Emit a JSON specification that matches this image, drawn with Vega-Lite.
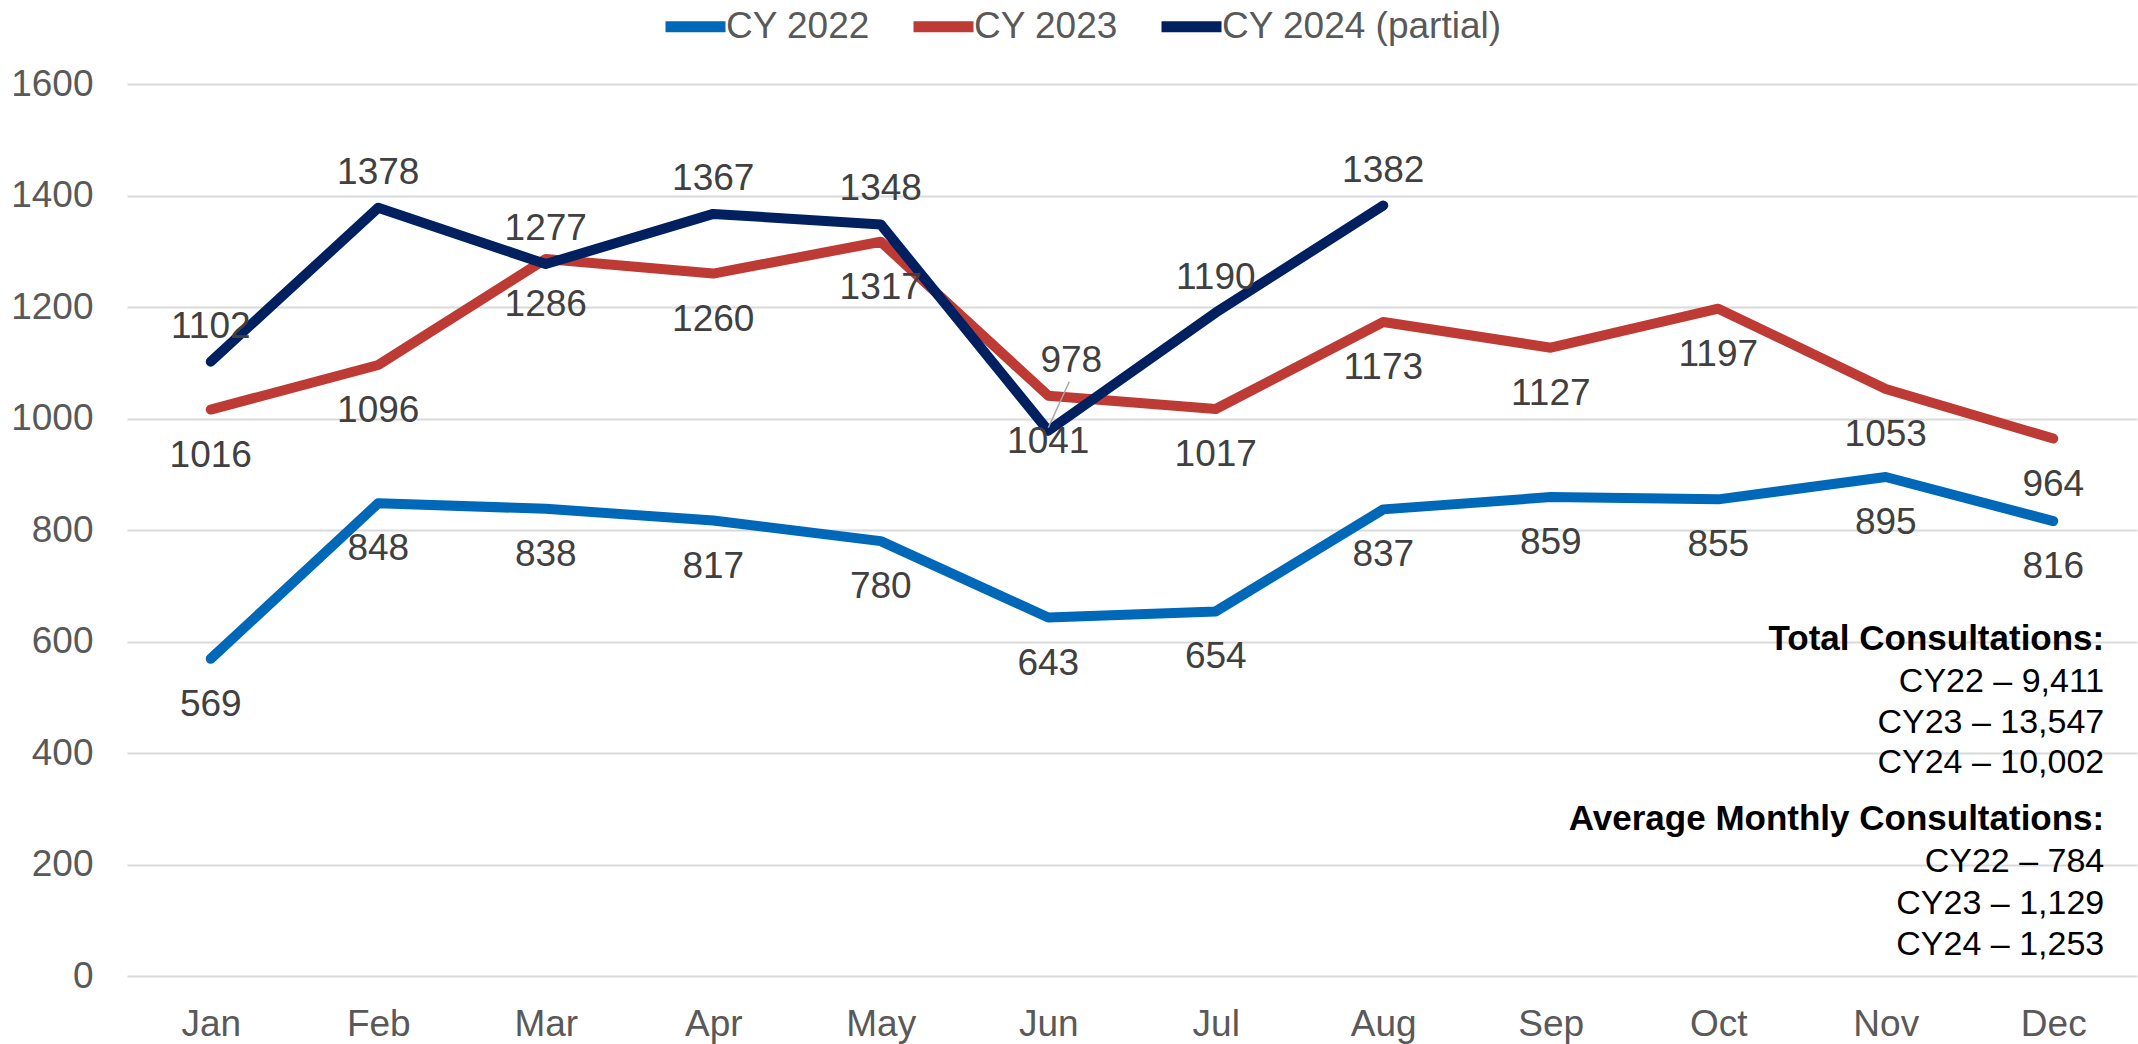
{
  "$schema": "https://vega.github.io/schema/vega-lite/v6.json",
  "width": 2010,
  "height": 892,
  "autosize": {"type": "none"},
  "padding": {"left": 127, "top": 84, "right": 1, "bottom": 68},
  "background": "white",
  "config": {"view": {"stroke": null}, "font": "Liberation Sans"},
  "datasets": {
    "consult": [
      {"month": "Jan", "series": "CY 2022", "consultations": 569},
      {"month": "Feb", "series": "CY 2022", "consultations": 848},
      {"month": "Mar", "series": "CY 2022", "consultations": 838},
      {"month": "Apr", "series": "CY 2022", "consultations": 817},
      {"month": "May", "series": "CY 2022", "consultations": 780},
      {"month": "Jun", "series": "CY 2022", "consultations": 643},
      {"month": "Jul", "series": "CY 2022", "consultations": 654},
      {"month": "Aug", "series": "CY 2022", "consultations": 837},
      {"month": "Sep", "series": "CY 2022", "consultations": 859},
      {"month": "Oct", "series": "CY 2022", "consultations": 855},
      {"month": "Nov", "series": "CY 2022", "consultations": 895},
      {"month": "Dec", "series": "CY 2022", "consultations": 816},
      {"month": "Jan", "series": "CY 2023", "consultations": 1016},
      {"month": "Feb", "series": "CY 2023", "consultations": 1096},
      {"month": "Mar", "series": "CY 2023", "consultations": 1286},
      {"month": "Apr", "series": "CY 2023", "consultations": 1260},
      {"month": "May", "series": "CY 2023", "consultations": 1317},
      {"month": "Jun", "series": "CY 2023", "consultations": 1041},
      {"month": "Jul", "series": "CY 2023", "consultations": 1017},
      {"month": "Aug", "series": "CY 2023", "consultations": 1173},
      {"month": "Sep", "series": "CY 2023", "consultations": 1127},
      {"month": "Oct", "series": "CY 2023", "consultations": 1197},
      {"month": "Nov", "series": "CY 2023", "consultations": 1053},
      {"month": "Dec", "series": "CY 2023", "consultations": 964},
      {"month": "Jan", "series": "CY 2024 (partial)", "consultations": 1102},
      {"month": "Feb", "series": "CY 2024 (partial)", "consultations": 1378},
      {"month": "Mar", "series": "CY 2024 (partial)", "consultations": 1277},
      {"month": "Apr", "series": "CY 2024 (partial)", "consultations": 1367},
      {"month": "May", "series": "CY 2024 (partial)", "consultations": 1348},
      {"month": "Jun", "series": "CY 2024 (partial)", "consultations": 978},
      {"month": "Jul", "series": "CY 2024 (partial)", "consultations": 1190},
      {"month": "Aug", "series": "CY 2024 (partial)", "consultations": 1382}
    ],
    "notes": [
      {"block": "total_head", "text": "Total Consultations:"},
      {"block": "total_body", "text": "CY22 – 9,411|CY23 – 13,547|CY24 – 10,002"},
      {"block": "avg_head", "text": "Average Monthly Consultations:"},
      {"block": "avg_body", "text": "CY22 – 784|CY23 – 1,129|CY24 – 1,253"}
    ]
  },
  "layer": [
    {
      "data": {"name": "consult"},
      "encoding": {
        "x": {
          "field": "month",
          "type": "ordinal",
          "sort": ["Jan", "Feb", "Mar", "Apr", "May", "Jun", "Jul", "Aug", "Sep", "Oct", "Nov", "Dec"],
          "scale": {"domain": ["Jan", "Feb", "Mar", "Apr", "May", "Jun", "Jul", "Aug", "Sep", "Oct", "Nov", "Dec"], "type": "point", "padding": 0.5},
          "axis": {
            "title": null,
            "labelAngle": 0,
            "domain": false,
            "ticks": false,
            "tickSize": 0,
            "grid": false,
            "labelFontSize": 37,
            "labelColor": "#595959",
            "labelBaseline": "alphabetic",
            "labelPadding": 59
          }
        },
        "y": {
          "field": "consultations",
          "type": "quantitative",
          "scale": {"domain": [0, 1600], "nice": false},
          "axis": {
            "title": null,
            "values": [0, 200, 400, 600, 800, 1000, 1200, 1400, 1600],
            "format": "d",
            "domain": false,
            "ticks": false,
            "tickSize": 0,
            "grid": true,
            "gridColor": "#D9D9D9",
            "gridWidth": 2,
            "labelFontSize": 37,
            "labelColor": "#595959",
            "labelPadding": 34
          }
        }
      },
      "layer": [
        {
          "mark": {"type": "line", "strokeWidth": 10, "strokeCap": "round", "strokeJoin": "round"},
          "encoding": {
            "color": {
              "field": "series",
              "type": "nominal",
              "scale": {"domain": ["CY 2022", "CY 2023", "CY 2024 (partial)"], "range": ["#0068B8", "#BE3A34", "#002060"]},
              "legend": {
                "title": null,
                "orient": "none",
                "legendX": 533,
                "legendY": -93,
                "direction": "horizontal",
                "padding": 0,
                "symbolType": "stroke",
                "symbolSize": 3600,
                "symbolStrokeWidth": 11,
                "labelFontSize": 37,
                "labelColor": "#595959",
                "labelOffset": -5,
                "labelLimit": 1000,
                "columnPadding": 21
              }
            }
          }
        },
        {
          "transform": [{"filter": "datum.series === 'CY 2024 (partial)' && datum.month === 'Jun'"}],
          "mark": {"type": "rule", "color": "#A6A6A6", "strokeWidth": 1.5, "yOffset": -3, "x2Offset": 21, "y2Offset": -49},
          "encoding": {
            "x2": {"field": "month"},
            "y2": {"field": "consultations"}
          }
        },
        {
          "transform": [{"filter": "datum.series !== 'CY 2024 (partial)'"}],
          "mark": {"type": "text", "align": "center", "baseline": "alphabetic", "dy": 57, "fontSize": 37, "color": "#404040"},
          "encoding": {"text": {"field": "consultations", "type": "quantitative", "format": "d"}}
        },
        {
          "transform": [{"filter": "datum.series === 'CY 2024 (partial)' && datum.month !== 'Jun'"}],
          "mark": {"type": "text", "align": "center", "baseline": "alphabetic", "dy": -24, "fontSize": 37, "color": "#404040"},
          "encoding": {"text": {"field": "consultations", "type": "quantitative", "format": "d"}}
        },
        {
          "transform": [{"filter": "datum.series === 'CY 2024 (partial)' && datum.month === 'Jun'"}],
          "mark": {"type": "text", "align": "center", "baseline": "alphabetic", "dx": 23, "dy": -59, "fontSize": 37, "color": "#404040"},
          "encoding": {"text": {"field": "consultations", "type": "quantitative", "format": "d"}}
        }
      ]
    },
    {
      "data": {"name": "notes"},
      "transform": [{"filter": "datum.block === 'total_head'"}],
      "mark": {"type": "text", "align": "right", "baseline": "alphabetic", "dx": 51, "fontSize": 35, "fontWeight": "bold", "color": "#000000"},
      "encoding": {
        "x": {"datum": "Dec"},
        "y": {"datum": 584.8},
        "text": {"field": "text", "type": "nominal"}
      }
    },
    {
      "data": {"name": "notes"},
      "transform": [{"filter": "datum.block === 'total_body'"}],
      "mark": {"type": "text", "align": "right", "baseline": "alphabetic", "dx": 51, "fontSize": 34, "lineBreak": "|", "lineHeight": 40.5, "color": "#000000"},
      "encoding": {
        "x": {"datum": "Dec"},
        "y": {"datum": 509.4},
        "text": {"field": "text", "type": "nominal"}
      }
    },
    {
      "data": {"name": "notes"},
      "transform": [{"filter": "datum.block === 'avg_head'"}],
      "mark": {"type": "text", "align": "right", "baseline": "alphabetic", "dx": 51, "fontSize": 35, "fontWeight": "bold", "color": "#000000"},
      "encoding": {
        "x": {"datum": "Dec"},
        "y": {"datum": 261.9},
        "text": {"field": "text", "type": "nominal"}
      }
    },
    {
      "data": {"name": "notes"},
      "transform": [{"filter": "datum.block === 'avg_body'"}],
      "mark": {"type": "text", "align": "right", "baseline": "alphabetic", "dx": 51, "fontSize": 34, "lineBreak": "|", "lineHeight": 41.5, "color": "#000000"},
      "encoding": {
        "x": {"datum": "Dec"},
        "y": {"datum": 186.5},
        "text": {"field": "text", "type": "nominal"}
      }
    }
  ]
}
